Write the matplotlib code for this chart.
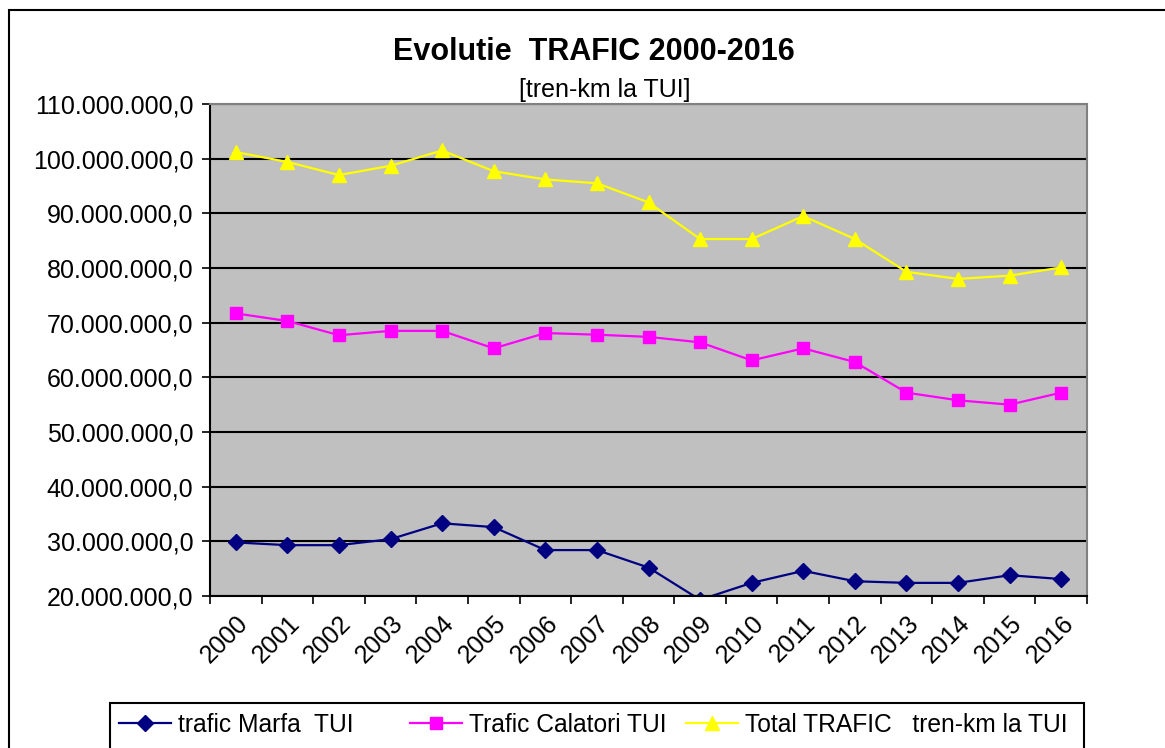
import matplotlib
matplotlib.use("Agg")
import matplotlib.pyplot as plt
from matplotlib.patches import Rectangle
from matplotlib.ticker import FuncFormatter, FixedLocator
from matplotlib.transforms import ScaledTranslation

plt.rcParams['font.family'] = ['Liberation Sans', 'DejaVu Sans']

years = [str(y) for y in range(2000, 2017)]
# tren-km la TUI
marfa = [29.8, 29.3, 29.3, 30.4, 33.3, 32.6, 28.4, 28.4, 25.2, 19.3,
         22.4, 24.6, 22.7, 22.4, 22.4, 23.8, 23.1]
calatori = [71.7, 70.3, 67.7, 68.5, 68.5, 65.3, 68.1, 67.8, 67.4, 66.4,
            63.1, 65.3, 62.8, 57.2, 55.8, 55.0, 57.2]
total = [101.2, 99.4, 97.0, 98.7, 101.5, 97.7, 96.2, 95.5, 92.0, 85.3,
         85.3, 89.5, 85.3, 79.3, 78.0, 78.6, 80.1]
marfa = [v * 1e6 for v in marfa]
calatori = [v * 1e6 for v in calatori]
total = [v * 1e6 for v in total]

fig = plt.figure(figsize=(11.65, 7.48), dpi=100)
W, H = 1165, 748
ax = fig.add_axes([210 / W, 1 - 596 / H, (1087 - 210) / W, (596 - 104) / H])
ax.set_facecolor('#C0C0C0')

x = list(range(len(years)))
l1, = ax.plot(x, marfa, color='#000080', lw=1.6, marker='D', ms=8)
l2, = ax.plot(x, calatori, color='#FF00FF', lw=1.6, marker='s', ms=8.5)
l3, = ax.plot(x, total, color='#FFFF00', lw=1.6, marker='^', ms=9.5)

ax.set_xlim(-0.5, len(years) - 0.5)
ax.set_ylim(20e6, 110e6)
ax.set_yticks([i * 10e6 for i in range(2, 12)])
ax.yaxis.set_major_formatter(FuncFormatter(
    lambda v, p: '{:,.1f}'.format(v).replace(',', 'X').replace('.', ',').replace('X', '.')))
ax.grid(axis='y', color='black', lw=1.5)
ax.set_axisbelow(True)

ax.set_xticks(x)
ax.set_xticklabels(years, rotation=45, ha='right', va='top', rotation_mode='anchor')
shift = ScaledTranslation(-14 / 100, 0, fig.dpi_scale_trans)
for lab in ax.get_xticklabels():
    lab.set_transform(lab.get_transform() + shift)
ax.xaxis.set_minor_locator(FixedLocator([i - 0.5 for i in range(len(years) + 1)]))
ax.tick_params(axis='x', which='major', length=0, pad=11, labelsize=18)
ax.tick_params(axis='x', which='minor', length=6, width=1.2, direction='out')
ax.tick_params(axis='y', length=6, width=1.2, direction='out', labelsize=18, pad=6)

for s in ['top', 'right']:
    ax.spines[s].set_color('#808080')
    ax.spines[s].set_linewidth(1.5)
for s in ['left', 'bottom']:
    ax.spines[s].set_color('black')
    ax.spines[s].set_linewidth(1.5)

fig.text(594 / W, 1 - 52 / H, 'Evolutie  TRAFIC 2000-2016', ha='center', va='center',
         fontsize=22, fontweight='bold')
fig.text(605 / W, 1 - 90 / H, '[tren-km la TUI]', ha='center', va='center', fontsize=18)

# legend box with three entries
fig.patches.append(Rectangle((110 / W, -0.1), (1084 - 110) / W, 0.1 + 1 - 703 / H,
                             transform=fig.transFigure, fill=False, edgecolor='black', lw=1.5))
labels = ['trafic Marfa  TUI', 'Trafic Calatori TUI', 'Total TRAFIC   tren-km la TUI']
starts = [119, 410, 686]
for h, lab, xs in zip([l1, l2, l3], labels, starts):
    fig.legend([h], [lab], loc='upper left', bbox_to_anchor=(xs / W, 1 - 713 / H),
               fontsize=17.7, frameon=False, handlelength=2.1, handletextpad=0.28,
               borderpad=0, borderaxespad=0)

fig.patches.append(Rectangle((9 / W, -0.1), 1.2, 1 - 10 / H + 0.1, transform=fig.transFigure,
                             fill=False, edgecolor='black', lw=1.5))

fig.savefig('out.png', dpi=100)
